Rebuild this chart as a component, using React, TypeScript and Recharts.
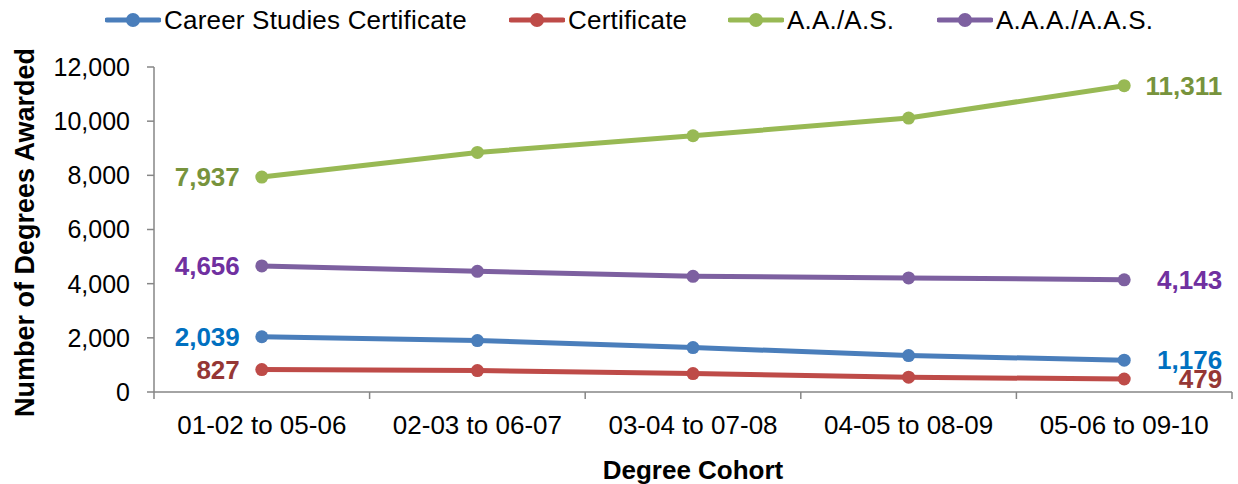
import React from "react";
import { LineChart, Line, XAxis, YAxis, Legend, LabelList } from "recharts";

const cohorts = ["01-02 to 05-06", "02-03 to 06-07", "03-04 to 07-08", "04-05 to 08-09", "05-06 to 09-10"];
const careerStudies = [2039, 1900, 1642, 1346, 1176];
const certificate = [827, 790, 680, 546, 479];
const associate = [7937, 8845, 9461, 10114, 11311];
const appliedAssociate = [4656, 4456, 4272, 4212, 4143];
const yTicks = [0, 2000, 4000, 6000, 8000, 10000, 12000];

const FONT = '"Liberation Sans", Arial, sans-serif';
const AXIS = "#868686";

const series = [
  { key: "cs", name: "Career Studies Certificate", color: "#4A7EBB", labelColor: "#0070C0" },
  { key: "cert", name: "Certificate", color: "#BE4B48", labelColor: "#953735" },
  { key: "aa", name: "A.A./A.S.", color: "#98B954", labelColor: "#77933C" },
  { key: "aaa", name: "A.A.A./A.A.S.", color: "#7D60A0", labelColor: "#7030A0" },
];
// legend slot widths so the entries sit where the original puts them
const legendWidths = [404, 219, 209, 250];

const data = cohorts.map((cohort, i) => ({
  cohort,
  cs: careerStudies[i],
  cert: certificate[i],
  aa: associate[i],
  aaa: appliedAssociate[i],
}));

const fmt = (v: number) => v.toLocaleString("en-US");

const TICK_SIZE = 7;
const TICK_MARGIN = 17;

function endLabel(color: string) {
  return (props: any) => {
    const { x, y, value, index } = props;
    const last = cohorts.length - 1;
    if (index !== 0 && index !== last) return null;
    return (
      <text
        x={index === 0 ? x - 22 : x + 98}
        y={y}
        textAnchor="end"
        dominantBaseline="central"
        fill={color}
        fontFamily={FONT}
        fontSize={26}
        fontWeight="bold"
      >
        {fmt(value)}
      </text>
    );
  };
}

// category label plus Excel-style tick marks between the categories
function CohortTick(props: any) {
  const { x, y, payload, width, visibleTicksCount } = props;
  const half = payload.offset ?? width / visibleTicksCount / 2;
  const top = y - TICK_MARGIN - TICK_SIZE;
  const bottom = y - TICK_MARGIN;
  const isLast = payload.index === cohorts.length - 1;
  return (
    <g>
      <line x1={x - half} y1={top} x2={x - half} y2={bottom} stroke={AXIS} strokeWidth={1.5} />
      {isLast && <line x1={x + half} y1={top} x2={x + half} y2={bottom} stroke={AXIS} strokeWidth={1.5} />}
      <text x={x} y={y} dy="0.71em" textAnchor="middle" fill="#000" fontSize={26} fontFamily={FONT}>
        {payload.value}
      </text>
    </g>
  );
}

function LegendContent() {
  return (
    <div style={{ height: 67, display: "flex", paddingLeft: 105, fontFamily: FONT, fontSize: 26 }}>
      {series.map((s, i) => (
        <div key={s.key} style={{ display: "flex", alignItems: "center", height: 40, width: legendWidths[i] }}>
          <svg width={56} height={16} style={{ marginRight: 3 }}>
            <line x1={2} y1={8} x2={54} y2={8} stroke={s.color} strokeWidth={5} strokeLinecap="round" />
            <circle cx={28} cy={8} r={7} fill={s.color} />
          </svg>
          <span style={{ letterSpacing: 0.2 }}>{s.name}</span>
        </div>
      ))}
    </div>
  );
}

export default function App() {
  return (
    <div style={{ position: "absolute", left: 0, top: 0, background: "#fff" }}>
      <LineChart width={1238} height={484} data={data} margin={{ top: 0, right: 6, bottom: 42, left: 0 }}>
        <Legend verticalAlign="top" content={<LegendContent />} />
        <XAxis
          dataKey="cohort"
          scale="band"
          axisLine={{ stroke: AXIS, strokeWidth: 1.5 }}
          tickLine={false}
          tickSize={TICK_SIZE}
          tickMargin={TICK_MARGIN}
          height={50}
          interval={0}
          tick={<CohortTick />}
          label={(props: any) => {
            const vb = props.viewBox;
            return (
              <text x={vb.x + vb.width / 2} y={479} textAnchor="middle" fontFamily={FONT} fontSize={26} fontWeight="bold" fill="#000">
                Degree Cohort
              </text>
            );
          }}
        />
        <YAxis
          width={154}
          domain={[0, 12000]}
          ticks={yTicks}
          tickFormatter={fmt}
          tickSize={7}
          tickMargin={17}
          axisLine={{ stroke: AXIS, strokeWidth: 1.5 }}
          tickLine={{ stroke: AXIS, strokeWidth: 1.5 }}
          tick={{ fill: "#000", fontSize: 25, fontFamily: FONT }}
          label={(props: any) => {
            const vb = props.viewBox;
            const cy = vb.y + vb.height / 2 + 3;
            return (
              <text x={25} y={cy} transform={`rotate(-90, 25, ${cy})`} textAnchor="middle" dominantBaseline="central" fontFamily={FONT} fontSize={27} fontWeight="bold" fill="#000">
                Number of Degrees Awarded
              </text>
            );
          }}
        />
        {series.map((s) => (
          <Line
            key={s.key}
            dataKey={s.key}
            name={s.name}
            type="linear"
            stroke={s.color}
            strokeWidth={5}
            dot={{ r: 6.5, fill: s.color, stroke: s.color, strokeWidth: 0 }}
            isAnimationActive={false}
          >
            <LabelList dataKey={s.key} content={endLabel(s.labelColor)} />
          </Line>
        ))}
      </LineChart>
    </div>
  );
}
